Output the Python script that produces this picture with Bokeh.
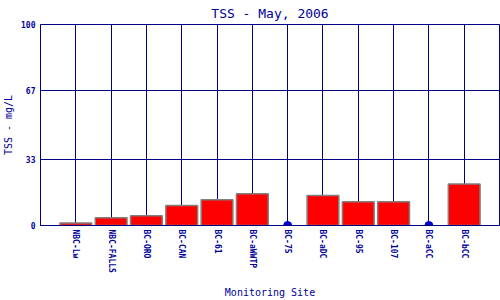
from bokeh.plotting import figure
from bokeh.models import Range1d, FixedTicker, ColumnDataSource
from bokeh.embed import file_html
from bokeh.resources import INLINE

sites = ["NBC-Lw", "NBC-FALLS", "BC-ORO", "BC-CAN", "BC-61", "BC-aWWTP",
         "BC-75", "BC-aDC", "BC-95", "BC-107", "BC-aCC", "BC-bCC"]
tss = [1.3, 3.8, 4.9, 10.0, 12.8, 15.8, 0.0, 14.9, 11.8, 11.8, 0.0, 20.7]
y_ticks = [0, 33, 67, 100]

NAVY = "#000080"
TXT = "#000099"
FONT = "DejaVu Sans Mono"

pos = list(range(1, len(sites) + 1))
bar_src = ColumnDataSource(dict(
    x=[i for i, v in zip(pos, tss) if v > 0],
    val=[v for v in tss if v > 0]))
dot_src = ColumnDataSource(dict(
    x=[i for i, v in zip(pos, tss) if v == 0],
    val=[v for v in tss if v == 0]))

p = figure(x_range=Range1d(0, len(sites) + 1), y_range=Range1d(0, 100),
           frame_width=459, frame_height=201,
           min_border_left=40, min_border_right=1, min_border_top=0, min_border_bottom=75,
           output_backend="svg", toolbar_location=None, title="TSS - May, 2006")

p.title.text_font = FONT
p.title.text_font_size = "13px"
p.title.text_font_style = "normal"
p.title.text_color = TXT
p.title.align = "center"
p.title.standoff = 7

p.outline_line_color = NAVY
p.outline_line_width = 1
p.outline_line_alpha = 1

for g in (p.xgrid, p.ygrid):
    g.grid_line_color = NAVY
    g.grid_line_width = 1
    g.grid_line_alpha = 1
p.ygrid.ticker = FixedTicker(ticks=y_ticks)
p.xgrid.ticker = FixedTicker(ticks=pos)

p.yaxis.ticker = FixedTicker(ticks=y_ticks)
p.xaxis.ticker = FixedTicker(ticks=pos)
p.xaxis.major_label_overrides = {i: s for i, s in zip(pos, sites)}
for ax in (p.xaxis, p.yaxis):
    ax.axis_line_color = NAVY
    ax.major_tick_line_color = None
    ax.minor_tick_line_color = None
    ax.major_tick_out = 0
    ax.major_tick_in = 0
    ax.major_label_text_font = FONT
    ax.major_label_text_font_size = "8px"
    ax.major_label_text_font_style = "bold"
    ax.major_label_text_color = TXT
    ax.axis_label_text_font = FONT
    ax.axis_label_text_font_size = "10px"
    ax.axis_label_text_font_style = "normal"
    ax.axis_label_text_color = TXT

p.xaxis.axis_label = "Monitoring Site"
p.yaxis.axis_label = "TSS - mg/L"
p.xaxis.major_label_orientation = "vertical"
p.xaxis.major_label_standoff = 4
p.yaxis.major_label_standoff = 5
p.xaxis.axis_label_standoff = 11
p.yaxis.axis_label_standoff = 4

p.vbar(x="x", top="val", width=0.9, source=bar_src,
       fill_color="#FF0000", line_color="#808080", line_width=1.5)
p.scatter(x="x", y="val", source=dot_src, size=8, color="#0000CC")

open("out.html", "w").write(file_html(p, INLINE))
